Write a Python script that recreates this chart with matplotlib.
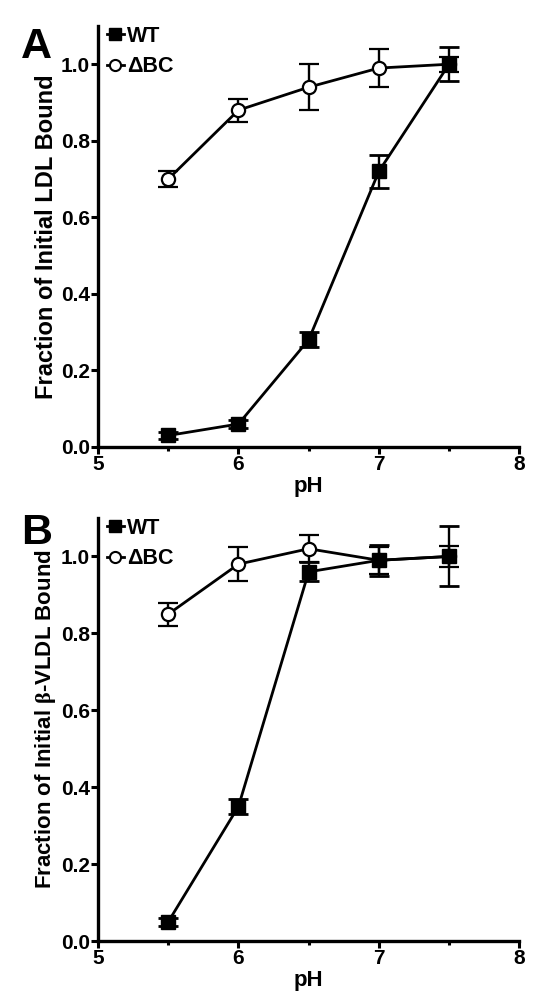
import matplotlib
matplotlib.use("Agg")
import matplotlib.pyplot as plt
from matplotlib.ticker import MultipleLocator
from matplotlib.lines import Line2D

plt.rcParams['font.family'] = ['Liberation Sans', 'DejaVu Sans']
plt.rcParams['font.weight'] = 'bold'
plt.rcParams['mathtext.fontset'] = 'custom'
plt.rcParams['mathtext.rm'] = 'Liberation Serif'

ph = [5.5, 6.0, 6.5, 7.0, 7.5]

# Panel A: LDL
a_wt = [0.03, 0.06, 0.28, 0.72, 1.00]
a_wt_err = [0.01, 0.01, 0.02, 0.043, 0.045]
a_bc = [0.70, 0.88, 0.94, 0.99, 1.00]
a_bc_err = [0.02, 0.03, 0.06, 0.05, 0.02]

# Panel B: beta-VLDL
b_wt = [0.05, 0.35, 0.96, 0.99, 1.00]
b_wt_err = [0.01, 0.02, 0.025, 0.04, 0.078]
b_bc = [0.85, 0.98, 1.02, 0.99, 1.00]
b_bc_err = [0.03, 0.045, 0.035, 0.035, 0.027]

xticks = [5, 6, 7, 8]
yticks = [0.0, 0.2, 0.4, 0.6, 0.8, 1.0]

fig = plt.figure(figsize=(5.42, 10.06), dpi=100)
axA = fig.add_axes([0.181, 0.5557, 0.777, 0.4185])
axB = fig.add_axes([0.181, 0.0646, 0.777, 0.4205])

def draw(ax, wt, wterr, bc, bcerr, ylabel, label_size, label_y, letter, letter_y):
    ax.errorbar(ph, bc, yerr=bcerr, color='black', lw=2.0, marker='o', ms=9.5,
                mfc='white', mec='black', mew=1.6, capsize=7, capthick=2.0,
                elinewidth=1.7, zorder=3)
    ax.errorbar(ph, wt, yerr=wterr, color='black', lw=2.0, marker='s', ms=9.5,
                mfc='black', mec='black', capsize=7, capthick=2.0,
                elinewidth=1.7, zorder=4)
    ax.set_xlim(5, 8)
    ax.set_ylim(0, 1.1)
    ax.set_xticks(xticks)
    ax.set_yticks(yticks)
    ax.xaxis.set_minor_locator(MultipleLocator(0.5))
    ax.set_yticklabels([f"{v:.1f}" for v in yticks])
    for s in ['top', 'right']:
        ax.spines[s].set_visible(False)
    for s in ['left', 'bottom']:
        ax.spines[s].set_linewidth(2.4)
    ax.tick_params(which='major', length=5, width=2.2, labelsize=15, pad=1)
    ax.tick_params(which='minor', axis='x', length=3, width=2.2)
    for lab in ax.get_xticklabels() + ax.get_yticklabels():
        lab.set_fontweight('bold')
    ax.set_xlabel('pH', fontsize=16, fontweight='bold', labelpad=1)
    ax.set_ylabel(ylabel, fontsize=label_size, fontweight='bold')
    ax.yaxis.set_label_coords(-0.095, label_y)
    handles = [
        Line2D([], [], color='black', lw=2.0, marker='s', ms=8, mfc='black'),
        Line2D([], [], color='black', lw=2.0, marker='o', ms=8, mfc='white', mew=1.5),
    ]
    ax.legend(handles, ['WT', '\u0394BC'], loc='upper left', frameon=False,
              handlelength=0.8, handletextpad=0.15, borderaxespad=0.0,
              labelspacing=0.45, prop={'weight': 'bold', 'size': 15.5},
              bbox_to_anchor=(0.0, 1.021))
    fig.text(0.0387, letter_y, letter, fontsize=31, fontweight='bold',
             va='baseline', ha='left')

draw(axA, a_wt, a_wt_err, a_bc, a_bc_err, 'Fraction of Initial LDL Bound',
     17, 0.5, 'A', 0.9423)
draw(axB, b_wt, b_wt_err, b_bc, b_bc_err,
     'Fraction of Initial $\\mathrm{\\beta}$-VLDL Bound', 16, 0.525, 'B', 0.4593)

fig.savefig('out.png', dpi=100)
